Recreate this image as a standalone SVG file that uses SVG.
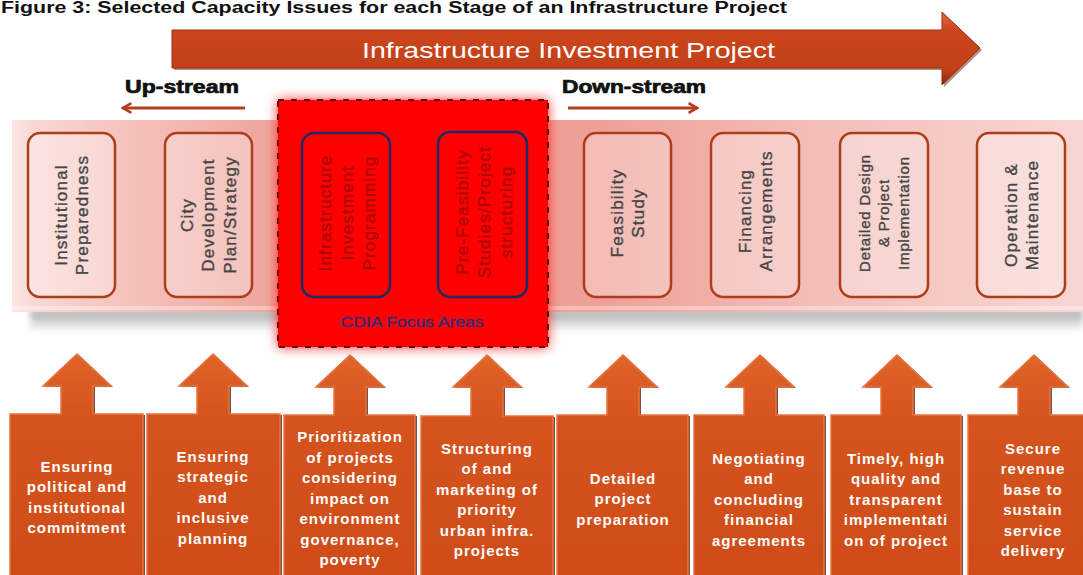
<svg xmlns="http://www.w3.org/2000/svg" width="1083" height="575" viewBox="0 0 1083 575">
<defs>
<style>
.title{font-family:"Liberation Sans",Arial,sans-serif;font-weight:bold;font-size:16px;fill:#111}
.stream{font-family:"Liberation Sans",Arial,sans-serif;font-weight:bold;font-size:18px;fill:#111;stroke:#111;stroke-width:0.7}
.big{font-family:"Liberation Sans",Arial,sans-serif;font-size:22px;fill:#fff}
.stage{fill:#fff;fill-opacity:0.3;stroke:#ad3d1b;stroke-width:2.5}
.focus{fill:none;stroke:#1e2a64;stroke-width:2.5}
.slabel{font-family:"Liberation Sans",Arial,sans-serif;font-size:17px;letter-spacing:1.2px;fill:#454545;stroke:#454545;stroke-width:0.35;text-anchor:middle}
.flabel{font-family:"Liberation Sans",Arial,sans-serif;font-size:17px;letter-spacing:1.2px;fill:#a80808;stroke:#a80808;stroke-width:0.3;text-anchor:middle}
.issue{fill:url(#orange);stroke:#e8733f;stroke-width:1.5}
.shadow{fill:#4a1406;opacity:0.75}
.ilabel{font-family:"Liberation Sans",Arial,sans-serif;font-weight:bold;font-size:15px;letter-spacing:1px;fill:#fff;text-anchor:middle}
.conn{stroke:#b5401e;stroke-width:3;fill:none}
</style>
<linearGradient id="band" x1="0" y1="0" x2="1083" y2="0" gradientUnits="userSpaceOnUse">
<stop offset="0" stop-color="#fdf0ee"/>
<stop offset="0.03" stop-color="#f8d8d4"/>
<stop offset="0.1" stop-color="#f5c6c0"/>
<stop offset="0.24" stop-color="#efa79e"/>
<stop offset="0.55" stop-color="#ee9f96"/>
<stop offset="0.75" stop-color="#f3bdb7"/>
<stop offset="1" stop-color="#f8d6d2"/>
</linearGradient>
<linearGradient id="arrowGrad" x1="0" y1="0" x2="0" y2="1">
<stop offset="0" stop-color="#e2683a"/>
<stop offset="0.25" stop-color="#cc461c"/>
<stop offset="0.8" stop-color="#c23f18"/>
<stop offset="1" stop-color="#7e2810"/>
</linearGradient>
<linearGradient id="orange" x1="0" y1="0" x2="0" y2="1">
<stop offset="0" stop-color="#e06428"/>
<stop offset="0.3" stop-color="#d5531d"/>
<stop offset="1" stop-color="#cf4c18"/>
</linearGradient>
<linearGradient id="shade" x1="0" y1="0" x2="0" y2="1">
<stop offset="0" stop-color="#a6a6a6"/>
<stop offset="1" stop-color="#ffffff"/>
</linearGradient>
<filter id="glow" x="-20%" y="-20%" width="140%" height="140%">
<feGaussianBlur stdDeviation="6"/>
</filter>
<filter id="soft" x="-5%" y="-50%" width="110%" height="200%">
<feGaussianBlur stdDeviation="3"/>
</filter>
<marker id="head" viewBox="0 0 10 10" refX="8" refY="5" markerWidth="4" markerHeight="4" orient="auto-start-reverse">
<path d="M1 1 L8 5 L1 9" fill="none" stroke="#b5401e" stroke-width="2.2"/>
</marker>
</defs>

<rect width="1083" height="575" fill="#ffffff"/>

<text class="title" x="1" y="13" textLength="786" lengthAdjust="spacingAndGlyphs">Figure 3: Selected Capacity Issues for each Stage of an Infrastructure Project</text>

<g id="project-arrow">
<path d="M172 30 H942 V12 L980 48 L942 85 V68 H172 Z" fill="#6a200c" transform="translate(2,2)" opacity="0.5"/>
<path d="M172 30 H942 V12 L980 48 L942 85 V68 H172 Z" fill="url(#arrowGrad)" stroke="#9a3012" stroke-width="1"/>
<text class="big" x="362" y="58" textLength="413" lengthAdjust="spacingAndGlyphs">Infrastructure Investment Project</text>
</g>

<g id="band">
<rect x="30" y="310" width="1053" height="22" fill="url(#shade)" filter="url(#soft)"/>
<rect x="12" y="120" width="1071" height="192" fill="url(#band)"/>
<rect x="12" y="306" width="1071" height="4" fill="#ffffff" opacity="0.35"/>
</g>

<g id="cdia-focus">
<rect x="278" y="100" width="270" height="247" fill="#ff1a1a" filter="url(#glow)"/>
<rect x="278" y="100" width="270" height="247" fill="#ff0000" stroke="#5a1010" stroke-width="2" stroke-dasharray="6 7"/>
<text x="412" y="327" font-family="Liberation Sans, Arial, sans-serif" font-size="14" fill="#2b2f78" stroke="#2b2f78" stroke-width="0.3" text-anchor="middle" textLength="143" lengthAdjust="spacingAndGlyphs">CDIA Focus Areas</text>
</g>

<g id="stage-institutional">
<rect class="stage" x="28" y="133" width="87" height="164" rx="12"/>
<text class="slabel" transform="translate(71,215) rotate(-90)"><tspan x="0" y="-4">Institutional</tspan><tspan x="0" y="17">Preparedness</tspan></text>
</g>
<g id="stage-city">
<rect class="stage" x="165" y="133" width="87" height="164" rx="12"/>
<text class="slabel" transform="translate(208,215) rotate(-90)"><tspan x="0" y="-15">City</tspan><tspan x="0" y="6">Development</tspan><tspan x="0" y="28">Plan/Strategy</tspan></text>
</g>
<g id="stage-investment-programming">
<rect class="focus" x="302" y="133" width="88" height="164" rx="12"/>
<text class="flabel" transform="translate(346,213) rotate(-90)"><tspan x="0" y="-15">Infrastructure</tspan><tspan x="0" y="7">Investment</tspan><tspan x="0" y="29">Programming</tspan></text>
</g>
<g id="stage-prefeasibility">
<rect class="focus" x="438" y="132" width="89" height="165" rx="12"/>
<text class="flabel" transform="translate(483,212) rotate(-90)"><tspan x="0" y="-15">Pre-Feasibility</tspan><tspan x="0" y="7">Studies/Project</tspan><tspan x="0" y="29">structuring</tspan></text>
</g>
<g id="stage-feasibility">
<rect class="stage" x="584" y="133" width="87" height="164" rx="12"/>
<text class="slabel" transform="translate(627,213) rotate(-90)"><tspan x="0" y="-4">Feasibility</tspan><tspan x="0" y="17">Study</tspan></text>
</g>
<g id="stage-financing">
<rect class="stage" x="711" y="133" width="88" height="164" rx="12"/>
<text class="slabel" transform="translate(755,211) rotate(-90)"><tspan x="0" y="-4">Financing</tspan><tspan x="0" y="17">Arrangements</tspan></text>
</g>
<g id="stage-detailed-design">
<rect class="stage" x="840" y="133" width="88" height="164" rx="12"/>
<text class="slabel" style="font-size:15px;letter-spacing:0.8px" transform="translate(884,213) rotate(-90)"><tspan x="0" y="-14">Detailed Design</tspan><tspan x="0" y="5">&amp; Project</tspan><tspan x="0" y="25">Implementation</tspan></text>
</g>
<g id="stage-operation">
<rect class="stage" x="977" y="133" width="88" height="164" rx="12"/>
<text class="slabel" transform="translate(1021,215) rotate(-90)"><tspan x="0" y="-4">Operation &amp;</tspan><tspan x="0" y="17">Maintenance</tspan></text>
</g>

<g id="connectors">
<line class="conn" x1="245" y1="108" x2="123" y2="108" marker-end="url(#head)"/>
<line class="conn" x1="568" y1="108" x2="697" y2="108" marker-end="url(#head)"/>
<text class="stream" x="125" y="93" textLength="114" lengthAdjust="spacingAndGlyphs">Up-stream</text>
<text class="stream" x="562" y="93" textLength="144" lengthAdjust="spacingAndGlyphs">Down-stream</text>
</g>

<g id="issue-1">
<path class="shadow" transform="translate(2,1)" d="M10 414 H61 V386 H43 L77 354 L111 386 H93 V414 H143 V580 H10 Z"/>
<path class="issue" d="M10 414 H61 V386 H43 L77 354 L111 386 H93 V414 H143 V580 H10 Z"/>
<text class="ilabel" x="77" y="472"><tspan x="77">Ensuring</tspan><tspan x="77" dy="20.4">political and</tspan><tspan x="77" dy="20.4">institutional</tspan><tspan x="77" dy="20.4">commitment</tspan></text>
</g>
<g id="issue-2">
<path class="shadow" transform="translate(2,1)" d="M147 414 H197 V386 H179 L213 354 L247 386 H229 V414 H280 V580 H147 Z"/>
<path class="issue" d="M147 414 H197 V386 H179 L213 354 L247 386 H229 V414 H280 V580 H147 Z"/>
<text class="ilabel" x="213" y="462"><tspan x="213">Ensuring</tspan><tspan x="213" dy="20.4">strategic</tspan><tspan x="213" dy="20.4">and</tspan><tspan x="213" dy="20.4">inclusive</tspan><tspan x="213" dy="20.4">planning</tspan></text>
</g>
<g id="issue-3">
<path class="shadow" transform="translate(2,1)" d="M284 415 H334 V387 H316 L350 355 L384 387 H366 V415 H415 V580 H284 Z"/>
<path class="issue" d="M284 415 H334 V387 H316 L350 355 L384 387 H366 V415 H415 V580 H284 Z"/>
<text class="ilabel" x="350" y="442"><tspan x="350">Prioritization</tspan><tspan x="350" dy="20.5">of projects</tspan><tspan x="350" dy="20.5">considering</tspan><tspan x="350" dy="20.5">impact on</tspan><tspan x="350" dy="20.5">environment</tspan><tspan x="350" dy="20.5">governance,</tspan><tspan x="350" dy="20.5">poverty</tspan></text>
</g>
<g id="issue-4">
<path class="shadow" transform="translate(2,1)" d="M421 416 H471 V387 H453 L487 355 L521 387 H503 V416 H553 V580 H421 Z"/>
<path class="issue" d="M421 416 H471 V387 H453 L487 355 L521 387 H503 V416 H553 V580 H421 Z"/>
<text class="ilabel" x="487" y="454"><tspan x="487">Structuring</tspan><tspan x="487" dy="20.4">of and</tspan><tspan x="487" dy="20.4">marketing of</tspan><tspan x="487" dy="20.4">priority</tspan><tspan x="487" dy="20.4">urban infra.</tspan><tspan x="487" dy="20.4">projects</tspan></text>
</g>
<g id="issue-5">
<path class="shadow" transform="translate(2,1)" d="M557 415 H607 V387 H589 L623 355 L657 387 H639 V415 H688 V580 H557 Z"/>
<path class="issue" d="M557 415 H607 V387 H589 L623 355 L657 387 H639 V415 H688 V580 H557 Z"/>
<text class="ilabel" x="623" y="484"><tspan x="623">Detailed</tspan><tspan x="623" dy="20.4">project</tspan><tspan x="623" dy="20.4">preparation</tspan></text>
</g>
<g id="issue-6">
<path class="shadow" transform="translate(2,1)" d="M694 415 H744 V387 H726 L760 355 L794 387 H776 V415 H824 V580 H694 Z"/>
<path class="issue" d="M694 415 H744 V387 H726 L760 355 L794 387 H776 V415 H824 V580 H694 Z"/>
<text class="ilabel" x="759" y="464"><tspan x="759">Negotiating</tspan><tspan x="759" dy="20.4">and</tspan><tspan x="759" dy="20.4">concluding</tspan><tspan x="759" dy="20.4">financial</tspan><tspan x="759" dy="20.4">agreements</tspan></text>
</g>
<g id="issue-7">
<path class="shadow" transform="translate(2,1)" d="M831 415 H881 V387 H863 L897 355 L931 387 H913 V415 H961 V580 H831 Z"/>
<path class="issue" d="M831 415 H881 V387 H863 L897 355 L931 387 H913 V415 H961 V580 H831 Z"/>
<text class="ilabel" x="896" y="464"><tspan x="896">Timely, high</tspan><tspan x="896" dy="20.4">quality and</tspan><tspan x="896" dy="20.4">transparent</tspan><tspan x="896" dy="20.4">implementati</tspan><tspan x="896" dy="20.4">on of project</tspan></text>
</g>
<g id="issue-8">
<path class="shadow" transform="translate(2,1)" d="M968 415 H1018 V387 H1000 L1034 355 L1068 387 H1050 V415 H1100 V580 H968 Z"/>
<path class="issue" d="M968 415 H1018 V387 H1000 L1034 355 L1068 387 H1050 V415 H1100 V580 H968 Z"/>
<text class="ilabel" x="1033" y="454"><tspan x="1033">Secure</tspan><tspan x="1033" dy="20.4">revenue</tspan><tspan x="1033" dy="20.4">base to</tspan><tspan x="1033" dy="20.4">sustain</tspan><tspan x="1033" dy="20.4">service</tspan><tspan x="1033" dy="20.4">delivery</tspan></text>
</g>
</svg>
